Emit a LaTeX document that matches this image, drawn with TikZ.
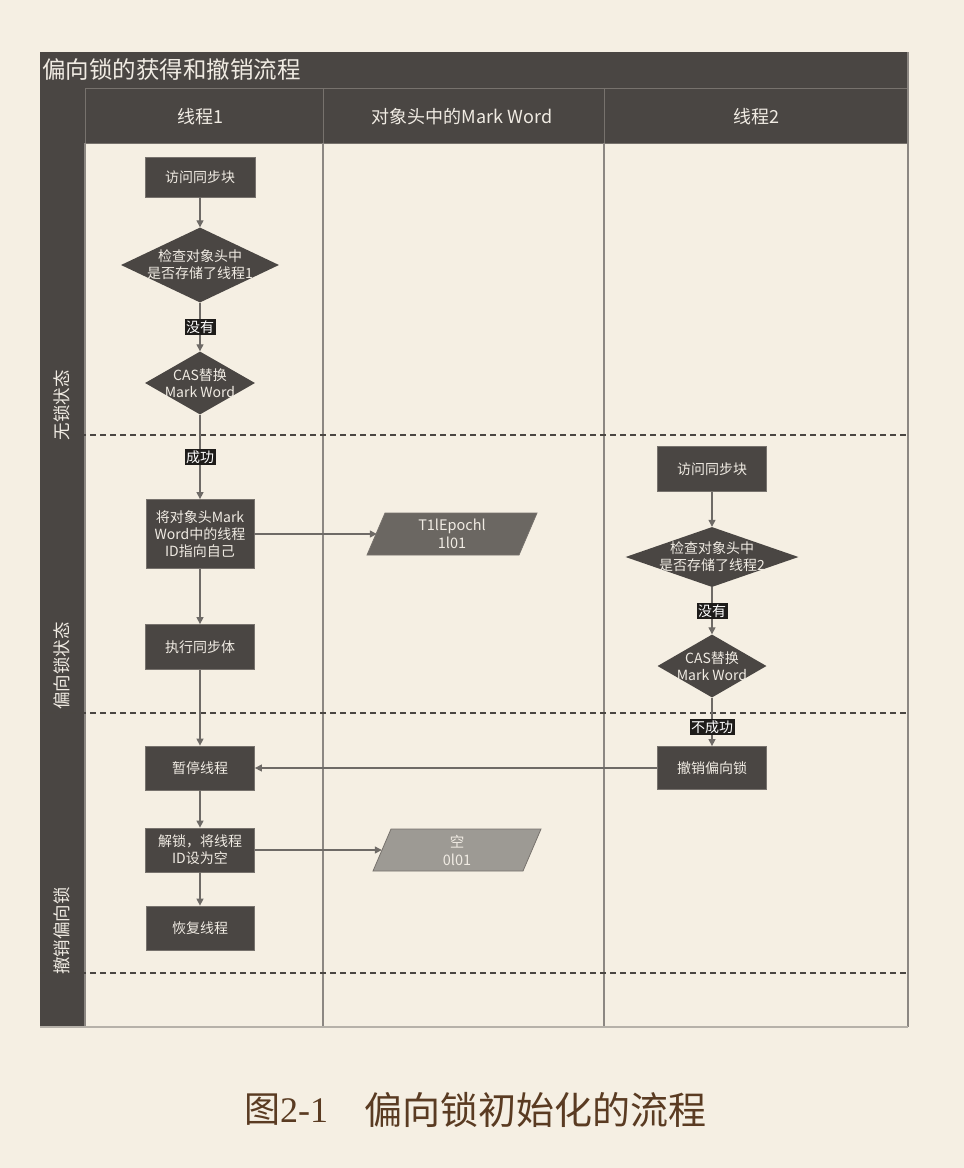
\documentclass[tikz,border=0pt]{standalone}
\usepackage{fontspec}
\setmainfont{Noto Sans CJK SC}
\newfontfamily\capnum{Liberation Serif}
\usetikzlibrary{arrows.meta,shapes.geometric}
\definecolor{bg}{HTML}{F5EFE3}
\definecolor{dark}{HTML}{4A4643}
\definecolor{lane}{HTML}{8C8782}
\definecolor{hsep}{HTML}{77726D}
\definecolor{txt}{HTML}{F0EBE3}
\definecolor{conn}{HTML}{6E6A66}
\definecolor{lbl}{HTML}{1E1C1A}
\definecolor{paraA}{HTML}{6B6762}
\definecolor{paraB}{HTML}{9D9A94}
\definecolor{dashc}{HTML}{4A4642}
\definecolor{capc}{HTML}{5A3B22}
\begin{document}
\begin{tikzpicture}[x=1pt,y=-1pt,
  proc/.style={draw=hsep, line width=0.8pt, fill=dark, text=txt, inner sep=0pt, align=center, font=\fontsize{14}{17}\selectfont},
  dec/.style={diamond, fill=dark, inner sep=0pt},
  dtext/.style={text=txt, inner sep=0pt, align=center, font=\fontsize{14}{17}\selectfont},
  ptext/.style={text=txt, inner sep=0pt, align=center, minimum width=150pt, minimum height=42pt, font=\fontsize{14.5}{18}\selectfont},
  conn/.style={draw=conn, line width=1.3pt, -{Triangle[length=7pt,width=7pt]}},
  tag/.style={fill=lbl, text=white, inner sep=1.5pt, font=\fontsize{14}{15}\selectfont},
  lanetxt/.style={text=txt, rotate=90, font=\fontsize{17.5}{20}\selectfont},
  headtxt/.style={text=txt, font=\fontsize{18}{20}\selectfont},
  lanel/.style={draw=lane, line width=1.3pt},
  dashl/.style={draw=dashc, line width=2.8pt, dash pattern=on 6pt off 4pt}
]
\useasboundingbox (0,0) rectangle (964,1168);
\fill[bg] (0,0) rectangle (964,1168);
% frame
\fill[dark] (40,52) rectangle (908,88);
\fill[dark] (40,88) rectangle (85,1027);
\fill[dark] (85,88) rectangle (908,143);
\draw[hsep, line width=1pt] (85,88) -- (908,88);
\draw[hsep, line width=1pt] (85,88) -- (85,143);
\draw[hsep, line width=1pt] (323,88) -- (323,143);
\draw[hsep, line width=1pt] (604,88) -- (604,143);
\draw[hsep, line width=1pt] (85,143) -- (908,143);
\draw[lanel] (85,143) -- (85,1027);
\draw[lanel] (323,143) -- (323,1027);
\draw[lanel] (604,143) -- (604,1027);
\draw[lanel] (908,52) -- (908,1027);
\draw[draw=lane!60!bg, line width=1.5pt] (40,1027) -- (908,1027);
% dashed separators
\draw[dashl] (40,435) -- (908,435);
\draw[dashl] (40,713) -- (908,713);
\draw[dashl] (40,973) -- (908,973);
% titles
\node[anchor=west, text=txt, font=\fontsize{23.5}{26}\selectfont, inner sep=0pt] (title) at (42,70) {偏向锁的获得和撤销流程};
\node[headtxt] (h1) at (200,117) {线程1};
\node[headtxt] (h2) at (462,117) {对象头中的Mark Word};
\node[headtxt] (h3) at (756,117) {线程2};
\node[lanetxt] (l1) at (62,405) {无锁状态};
\node[lanetxt] (l2) at (62,666) {偏向锁状态};
\node[lanetxt] (l3) at (62,931) {撤销偏向锁};
% thread 1
\node[proc, minimum width=110pt, minimum height=40pt] (a1) at (200,177) {访问同步块};
\node[dec, minimum width=158pt, minimum height=75pt] (d1) at (200,265) {};
\node[dtext] (d1t) at (d1.center) {检查对象头中\\是否存储了线程1};
\node[dec, minimum width=110pt, minimum height=63pt] (c1) at (200,383) {};
\node[dtext] (c1t) at (c1.center) {CAS替换\\Mark Word};
\node[proc, minimum width=108pt, minimum height=69pt] (r1) at (200,534) {将对象头Mark\\Word中的线程\\ID指向自己};
\fill[paraA, draw=hsep, line width=0.8pt] (367,555) -- (385,513) -- (537,513) -- (519,555) -- cycle;
\node[ptext] (p1) at (452,534) {T1lEpochl\\1l01};
\node[proc, minimum width=109pt, minimum height=45pt] (r2) at (200,647) {执行同步体};
\node[proc, minimum width=109pt, minimum height=44pt] (r3) at (200,768) {暂停线程};
\node[proc, minimum width=109pt, minimum height=44pt] (r4) at (200,850) {解锁，将线程\\ID设为空};
\fill[paraB, draw=hsep, line width=0.8pt] (373,871) -- (391,829) -- (541,829) -- (523,871) -- cycle;
\node[ptext] (p2) at (457,850) {空\\0l01};
\node[proc, minimum width=108pt, minimum height=44pt] (r5) at (200,928) {恢复线程};
% thread 2
\node[proc, minimum width=109pt, minimum height=45pt] (b1) at (712,469) {访问同步块};
\node[dec, minimum width=173pt, minimum height=60pt] (e1) at (712,557) {};
\node[dtext] (e1t) at (e1.center) {检查对象头中\\是否存储了线程2};
\node[dec, minimum width=109pt, minimum height=63pt] (e2) at (712,666) {};
\node[dtext] (e2t) at (e2.center) {CAS替换\\Mark Word};
\node[proc, minimum width=109pt, minimum height=43pt] (b2) at (712,768) {撤销偏向锁};
% connectors
\draw[conn] (a1.south) -- (d1.north);
\draw[conn] (d1.south) -- node[tag] {没有} (c1.north);
\draw[conn] (c1.south) -- node[tag] {成功} (r1.north);
\draw[conn] (r1.east) -- (p1.west);
\draw[conn] (r1.south) -- (r2.north);
\draw[conn] (r2.south) -- (r3.north);
\draw[conn] (r3.south) -- (r4.north);
\draw[conn] (r4.east) -- (p2.west);
\draw[conn] (r4.south) -- (r5.north);
\draw[conn] (b1.south) -- (e1.north);
\draw[conn] (e1.south) -- node[tag] {没有} (e2.north);
\draw[conn] (e2.south) -- node[tag, pos=0.6] {不成功} (b2.north);
\draw[conn] (b2.west) -- (r3.east);
% caption
\node[anchor=west, text=capc, inner sep=0pt, font=\fontsize{36}{40}\selectfont] (cap1) at (244,1110) {图{\capnum 2-1}};
\node[anchor=west, text=capc, inner sep=0pt, font=\fontsize{38}{40}\selectfont] (cap2) at (364,1110) {偏向锁初始化的流程};
\end{tikzpicture}
\end{document}
